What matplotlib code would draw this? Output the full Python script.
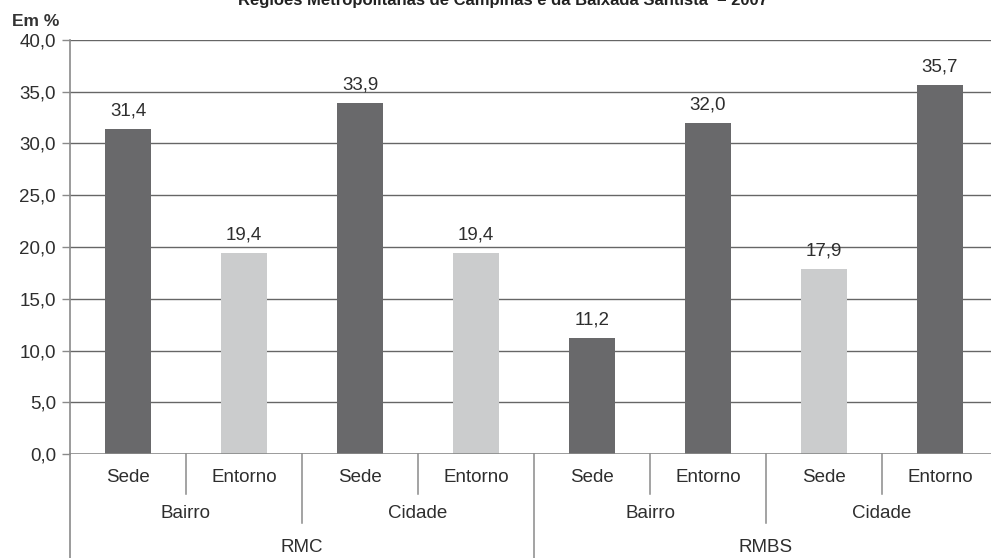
import numpy as np
import matplotlib
matplotlib.use("Agg")
import matplotlib.pyplot as plt
import matplotlib.transforms as mtransforms

plt.rcParams['font.family'] = ['Liberation Sans', 'DejaVu Sans']

titulo = 'Regiões Metropolitanas de Campinas e da Baixada Santista  – 2007'
rotulos_local = ['Sede', 'Entorno', 'Sede', 'Entorno', 'Sede', 'Entorno', 'Sede', 'Entorno']
rotulos_escala = ['Bairro', 'Cidade', 'Bairro', 'Cidade']
rotulos_regiao = ['RMC', 'RMBS']
valores = [31.4, 19.4, 33.9, 19.4, 11.2, 32.0, 17.9, 35.7]

escuro = '#69696b'
claro = '#cbcccd'
cores = [escuro, claro, escuro, claro, escuro, escuro, claro, escuro]
cor_texto = '#2e2e2e'
cor_linha = '#8a8a8a'
fs = 13.5

fig = plt.figure(figsize=(9.91, 5.58), dpi=100)
W, H = 991, 558
x0, y0, x1, y1 = 70, 454, 998, 40
ax = fig.add_axes([x0 / W, (H - y0) / H, (x1 - x0) / W, (y0 - y1) / H])

x = np.arange(len(valores))
barras = ax.bar(x, valores, width=0.405, color=cores, zorder=3)
for b, v in zip(barras, valores):
    ax.text(b.get_x() + b.get_width() / 2, v + 0.9, f'{v:.1f}'.replace('.', ','),
            ha='center', va='bottom', fontsize=fs, color=cor_texto)

ax.set_xlim(-0.5, len(valores) - 0.5)
ax.set_ylim(0, 40)
ticks = np.arange(0, 40.1, 5)
ax.set_yticks(ticks)
ax.set_yticklabels([f'{t:.1f}'.replace('.', ',') for t in ticks], fontsize=fs, color=cor_texto)
ax.tick_params(axis='y', length=6, color=cor_linha, width=1, pad=4)
ax.set_xticks([])

for t in ticks[1:]:
    ax.axhline(t, color='#666666', lw=1.0, zorder=1)
ax.axhline(0, color=cor_linha, lw=1.2, zorder=4)

for s in ['top', 'right', 'bottom']:
    ax.spines[s].set_visible(False)
ax.spines['left'].set_color(cor_linha)
ax.spines['left'].set_linewidth(1.2)

# eixo categórico em três níveis
alt = y0 - y1
trans = mtransforms.blended_transform_factory(ax.transData, ax.transAxes)
ax.plot([-0.5, -0.5], [0, -110 / alt], transform=trans, color=cor_linha, lw=1.2, clip_on=False)

for i, r in enumerate(rotulos_local):
    ax.text(i, -23 / alt, r, transform=trans, ha='center', va='center', fontsize=fs, color=cor_texto)
for i in range(len(rotulos_local) - 1):
    if (i + 1) % 4 == 0:
        fim = -110
    elif (i + 1) % 2 == 0:
        fim = -69
    else:
        fim = -40
    ax.plot([i + 0.5, i + 0.5], [0, fim / alt], transform=trans, color=cor_linha, lw=1.1, clip_on=False)

for j, r in enumerate(rotulos_escala):
    ax.text(2 * j + 0.5, -59 / alt, r, transform=trans, ha='center', va='center', fontsize=fs, color=cor_texto)
for k, r in enumerate(rotulos_regiao):
    ax.text(4 * k + 1.5, -94 / alt, r, transform=trans, ha='center', va='center', fontsize=fs, color=cor_texto)

fig.text(503 / W, 1 - 0.5 / H, titulo, ha='center', va='center', fontsize=12,
         fontweight='bold', color='#222222')
fig.text(12 / W, 1 - 22 / H, 'Em %', ha='left', va='center', fontsize=12.5,
         fontweight='bold', color='#333333')

fig.savefig('out.png', dpi=100)
